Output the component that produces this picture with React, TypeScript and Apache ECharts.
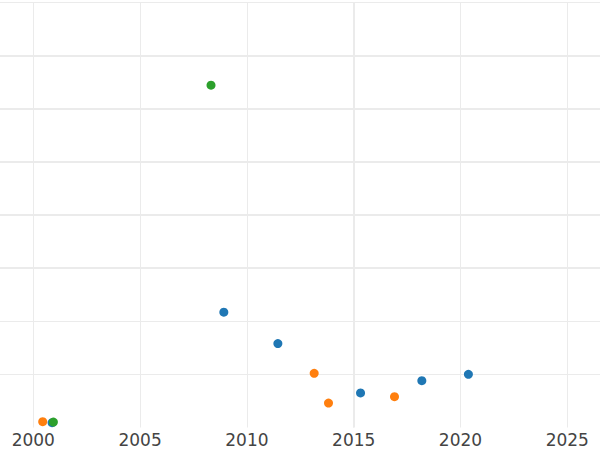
import React, { useEffect, useRef } from "react";
import * as echarts from "echarts";

// Data
const blueYears = [2000.88, 2008.92, 2011.45, 2015.32, 2018.19, 2020.37];
const blueValues = [0.09, 2.17, 1.58, 0.65, 0.88, 1.0];
const orangeYears = [2000.44, 2013.15, 2013.82, 2016.91];
const orangeValues = [0.11, 1.02, 0.46, 0.58];
const greenYears = [2000.94, 2008.32];
const greenValues = [0.103, 6.44];

// Axis ranges and gridlines that appear doubled (thicker) in the reference
const xRange = [1998.441, 2026.531];
const thickYLevels = [3, 4, 5, 6, 7];
const thickXYears = [2015];

const zip = (xs: number[], ys: number[]) => xs.map((x, i) => [x, ys[i]]);

export default function App() {
  const ref = useRef<HTMLDivElement>(null);
  useEffect(() => {
    if (!ref.current) return;
    const chart = echarts.init(ref.current, undefined, { renderer: "svg" });
    const gridColor = "#ebebeb";
    chart.setOption({
      animation: false,
      backgroundColor: "#ffffff",
      grid: { left: 0, right: 0, top: 2.3, bottom: 22.5, containLabel: false },
      xAxis: {
        type: "value",
        min: xRange[0],
        max: xRange[1],
        splitNumber: 5,
        axisLine: { show: false },
        axisTick: { show: false },
        axisLabel: {
          color: "#444444",
          fontFamily: "DejaVu Sans",
          fontSize: 17,
          margin: 4,
          showMinLabel: false,
          showMaxLabel: false,
          formatter: (v: number) => String(Math.round(v)),
        },
        splitLine: {
          show: true,
          showMinLine: false,
          showMaxLine: false,
          lineStyle: { color: gridColor, width: 1 },
        },
      },
      yAxis: {
        type: "value",
        min: 0,
        max: 8,
        interval: 1,
        axisLine: { show: false },
        axisTick: { show: false },
        axisLabel: { show: false },
        splitLine: { show: true, showMinLine: false, lineStyle: { color: gridColor, width: 1 } },
      },
      series: [
        {
          type: "scatter",
          name: "grid",
          data: [],
          silent: true,
          z: 1,
          markLine: {
            silent: true,
            symbol: "none",
            label: { show: false },
            lineStyle: { color: gridColor, width: 2, type: "solid" },
            data: [
              ...thickYLevels.map((v) => ({ yAxis: v })),
              ...thickXYears.map((v) => ({ xAxis: v })),
            ],
          },
        },
        {
          type: "scatter",
          name: "Blue",
          data: zip(blueYears, blueValues),
          symbolSize: 9,
          itemStyle: { color: "#1f77b4", opacity: 1 },
          z: 3,
        },
        {
          type: "scatter",
          name: "Orange",
          data: zip(orangeYears, orangeValues),
          symbolSize: 9,
          itemStyle: { color: "#ff7f0e", opacity: 1 },
          z: 3,
        },
        {
          type: "scatter",
          name: "Green",
          data: zip(greenYears, greenValues),
          symbolSize: 9,
          itemStyle: { color: "#2ca02c", opacity: 1 },
          z: 3,
        },
      ],
    });
    return () => chart.dispose();
  }, []);
  return (
    <div
      ref={ref}
      style={{ position: "fixed", left: 0, top: 0, width: 600, height: 450 }}
    />
  );
}
